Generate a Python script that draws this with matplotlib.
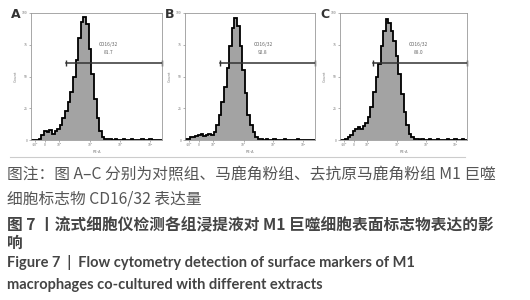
import matplotlib.pyplot as plt
import numpy as np

plt.rcParams['font.family'] = ['Noto Sans CJK SC', 'DejaVu Sans']

# histogram counts per bin (50 bins over the display range)
counts_a = [0, 0, 0, 1, 4, 7, 6, 8, 5, 7, 9, 12, 17, 23, 30, 38, 50, 63, 80, 93,
            97, 91, 72, 52, 32, 17, 7, 2, 1, 0.5, 0.5, 0, 0.5, 0, 0, 0.5, 0, 0, 0.5, 0,
            0, 0, 0.5, 0, 0, 0.5, 0, 0, 0, 0]
counts_b = [1, 1, 2, 2, 3, 4, 5, 3, 4, 5, 4, 6, 12, 20, 30, 42, 57, 74, 88, 96,
            90, 74, 55, 37, 20, 12, 6, 2, 1, 0.5, 0, 0.5, 0, 0, 0.5, 0, 0, 0, 0.5, 0,
            0, 0, 0, 0.5, 0, 0, 0, 0, 0, 0]
counts_c = [0, 0, 1, 2, 4, 7, 9, 10, 9, 11, 13, 18, 26, 38, 50, 60, 74, 86, 95, 92,
            86, 78, 66, 52, 36, 22, 12, 5, 2, 1, 0.5, 0, 0.5, 0, 0, 0.5, 0, 0, 0.5, 0,
            0, 0, 0.5, 0, 0, 0.5, 0, 0, 0.5, 0]

panel_labels = ["A", "B", "C"]
gate_name = "CD16/32"
gate_values = ["81.7", "92.8", "88.0"]
gate_start = [0.27, 0.27, 0.26]
gate_level = 61
label_x = [0.59, 0.60, 0.62]

x_tick_pos = [0.03, 0.107, 0.214, 0.45, 0.68, 0.91]
x_tick_labels = ["-10²", "0", "10²", "10³", "10⁴", "10⁵"]
y_ticks = [0, 25, 50, 75, 100]
y_tick_labels = ["0", "25", "50", "75", "100"]

note_lines = ["图注：图 A–C 分别为对照组、马鹿角粉组、去抗原马鹿角粉组 M1 巨噬",
              "细胞标志物 CD16/32 表达量"]
title_lines = ["图 7 丨流式细胞仪检测各组浸提液对 M1 巨噬细胞表面标志物表达的影",
               "响"]
english_lines = ["Figure 7  |  Flow cytometry detection of surface markers of M1",
                 "macrophages co-cultured with different extracts"]

fig = plt.figure(figsize=(5.3, 3.0), dpi=100)
W, H = 530, 300
boxes = [(31, 131), (185, 130), (340, 127)]
edges = np.linspace(0, 1, len(counts_a) + 1)

for i, counts in enumerate([counts_a, counts_b, counts_c]):
    left, width = boxes[i]
    ax = fig.add_axes([left / W, 1 - 140 / H, width / W, 127 / H])
    ax.stairs(counts, edges, fill=True, color="#a3a3a3")
    ax.stairs(counts, edges, color="black", linewidth=1.3)
    ax.set_xlim(0, 1)
    ax.set_ylim(0, 100)
    ax.set_xticks(x_tick_pos, x_tick_labels)
    ax.set_yticks(y_ticks, y_tick_labels)
    ax.tick_params(labelsize=2.5, length=1.5, width=0.4, colors="#777777", pad=1)
    for sp in ax.spines.values():
        sp.set_color("#999999")
        sp.set_linewidth(0.6)
    ax.set_xlabel("PE-A", fontsize=2.8, color="#777777", labelpad=1.5)
    ax.set_ylabel("Count", fontsize=2.8, color="#777777", labelpad=3)
    ax.plot([gate_start[i], 1.0], [gate_level, gate_level], color="#333333",
            linewidth=1.1, clip_on=False)
    ax.plot([gate_start[i], 1.0], [gate_level, gate_level], linestyle="none",
            marker="|", markersize=4, color="#333333", clip_on=False)
    ax.text(label_x[i], 75, gate_name, fontsize=3.5, color="#666666", ha="center", va="center")
    ax.text(label_x[i], 69, gate_values[i], fontsize=3.5, color="#666666", ha="center", va="center")
    fig.text((left - 20) / W, 1 - 14 / H, panel_labels[i], fontsize=9, fontweight="bold",
             color="#333333", ha="left", va="center", family=["DejaVu Sans"])

fig.add_artist(plt.Line2D([10 / W, 465 / W], [1 - 157 / H, 1 - 157 / H],
                          color="#cccccc", linewidth=0.8))

x0 = 7 / W
fig.text(x0, 1 - 175 / H, note_lines[0], fontsize=11.3, color="#555555", va="center")
fig.text(x0, 1 - 199 / H, note_lines[1], fontsize=11.3, color="#555555", va="center")
fig.text(x0, 1 - 225 / H, title_lines[0], fontsize=11.3, color="#444444", va="center",
         fontweight="bold")
fig.text(x0, 1 - 243 / H, title_lines[1], fontsize=11.3, color="#444444", va="center",
         fontweight="bold")
fig.text(x0, 1 - 263 / H, english_lines[0], fontsize=10.5, color="#444444", va="center",
         fontweight="bold", family=["Lato", "DejaVu Sans"])
fig.text(x0, 1 - 285 / H, english_lines[1], fontsize=10.5, color="#444444", va="center",
         fontweight="bold", family=["Lato", "DejaVu Sans"])

fig.savefig("out.png", dpi=100)
